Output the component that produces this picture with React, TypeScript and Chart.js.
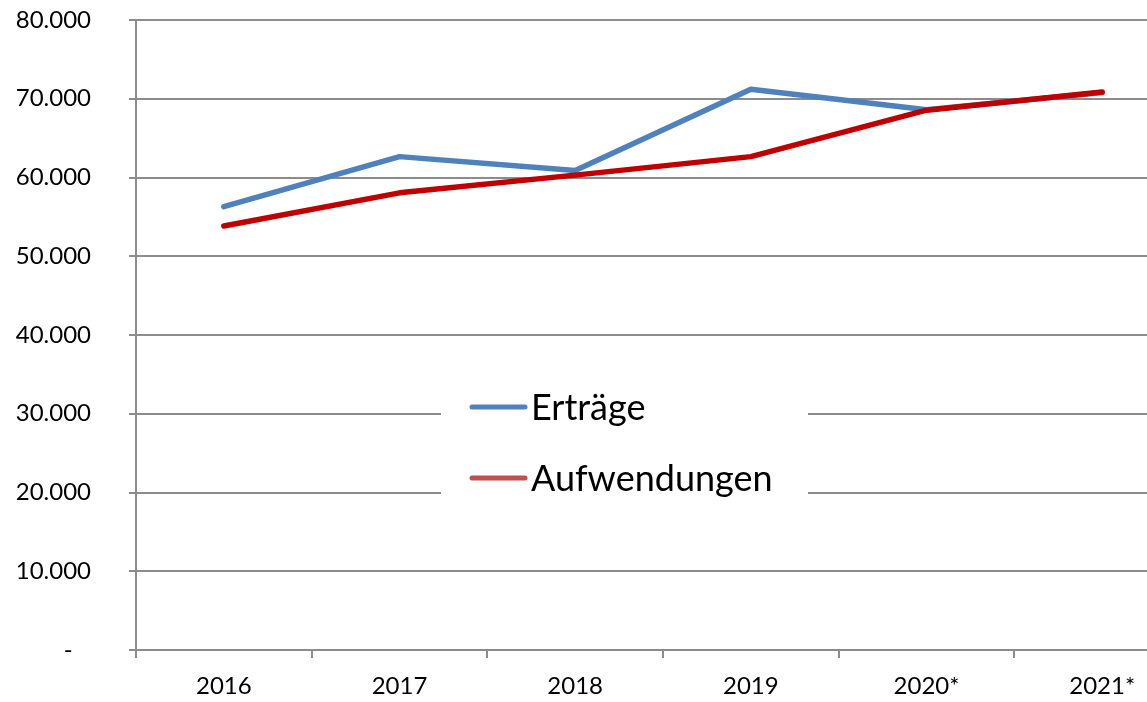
import React, { useEffect, useRef } from 'react';
import { Chart, registerables } from 'chart.js';

Chart.register(...registerables);

const categories = ['2016', '2017', '2018', '2019', '2020*', '2021*'];
const ertraege = [56300, 62650, 60900, 71200, 68600, 70800];
const aufwendungen = [53850, 58050, 60300, 62650, 68550, 70850];
const seriesNames = ['Erträge', 'Aufwendungen'];
const seriesColors = ['#4F81BD', '#C00000'];
const legendColors = ['#4F81BD', '#C0504D'];
const yMin = 0;
const yMax = 80000;
const yStep = 10000;

const FONT = 'Lato, "Open Sans", sans-serif';

const formatTick = (v: number) => {
  if (v === 0) return '-   ';
  return `${Math.round(v / 1000)}.000`;
};

const midLegend = {
  id: 'midLegend',
  beforeDatasetsDraw(chart: any) {
    const { ctx, chartArea } = chart;
    const bx = chartArea.left + 305;
    const by = chartArea.top + 352;
    ctx.save();
    ctx.fillStyle = '#ffffff';
    ctx.fillRect(bx, by, 367, 150);
    ctx.font = `36px ${FONT}`;
    ctx.textBaseline = 'alphabetic';
    ctx.textAlign = 'left';
    const rows = [by + 35, by + 106];
    seriesNames.forEach((name, i) => {
      const ly = rows[i];
      ctx.strokeStyle = legendColors[i];
      ctx.lineWidth = 5;
      ctx.lineCap = 'round';
      ctx.beginPath();
      ctx.moveTo(bx + 31, ly);
      ctx.lineTo(bx + 84, ly);
      ctx.stroke();
      ctx.fillStyle = '#000000';
      ctx.fillText(name, bx + 90, ly + 13);
    });
    ctx.restore();
  },
};

export default function App() {
  const ref = useRef<HTMLCanvasElement>(null);
  useEffect(() => {
    if (!ref.current) return;
    const chart = new Chart(ref.current, {
      type: 'line',
      data: {
        labels: categories,
        datasets: [
          {
            label: seriesNames[0],
            data: ertraege,
            borderColor: seriesColors[0],
            backgroundColor: seriesColors[0],
            borderWidth: 5.5,
            pointRadius: 0,
            borderCapStyle: 'round',
            borderJoinStyle: 'round',
            tension: 0,
            order: 1,
          },
          {
            label: seriesNames[1],
            data: aufwendungen,
            borderColor: seriesColors[1],
            backgroundColor: seriesColors[1],
            borderWidth: 5.5,
            pointRadius: 0,
            borderCapStyle: 'round',
            borderJoinStyle: 'round',
            tension: 0,
            order: 0,
          },
        ],
      },
      options: {
        responsive: false,
        animation: false,
        layout: { padding: { top: 0, left: 0, right: 0, bottom: 0 } },
        plugins: {
          legend: { display: false },
          tooltip: { enabled: false },
        },
        scales: {
          x: {
            type: 'category',
            offset: true,
            grid: {
              offset: true,
              drawOnChartArea: false,
              drawTicks: true,
              tickLength: 8,
              color: '#8c8c8c',
              lineWidth: 2,
            },
            border: { display: true, color: '#8c8c8c', width: 2 },
            ticks: {
              color: '#000000',
              font: { family: FONT, size: 24 },
              padding: 14,
              maxRotation: 0,
              autoSkip: false,
            },
            afterFit: (s: any) => {
              s.height = 52;
            },
          },
          y: {
            min: yMin,
            max: yMax,
            grid: {
              color: '#8c8c8c',
              lineWidth: 2,
              tickLength: 7,
              drawTicks: true,
            },
            border: { display: true, color: '#8c8c8c', width: 2 },
            ticks: {
              stepSize: yStep,
              color: '#000000',
              font: { family: FONT, size: 24 },
              padding: 38,
              callback: (v: any) => formatTick(Number(v)),
            },
            afterFit: (s: any) => {
              s.width = 136;
              s.paddingTop = 20;
              s.paddingBottom = 0;
            },
          },
        },
      },
      plugins: [midLegend],
    });
    return () => chart.destroy();
  }, []);

  return (
    <div
      style={{
        position: 'fixed',
        left: 0,
        top: 0,
        width: 1147,
        height: 702,
        overflow: 'hidden',
        background: '#ffffff',
      }}
    >
      <canvas ref={ref} width={1190} height={702} style={{ display: 'block' }} />
    </div>
  );
}
